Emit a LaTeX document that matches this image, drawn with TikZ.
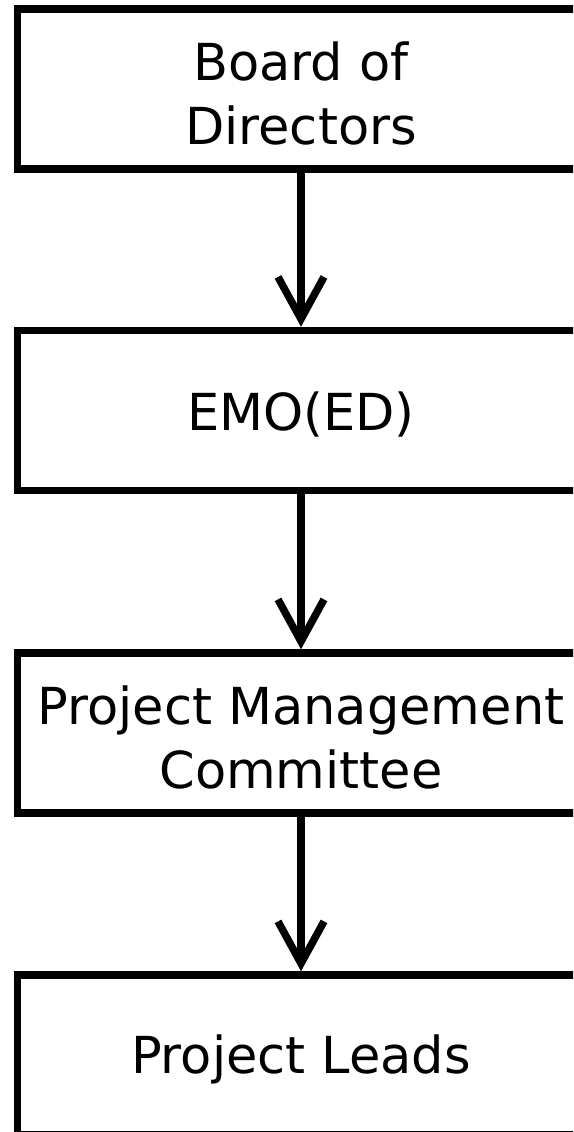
\documentclass[tikz,border=0pt]{standalone}
\usepackage{fontspec}
\setmainfont{DejaVu Sans}
\usetikzlibrary{arrows.meta}
\begin{document}
\begin{tikzpicture}[x=1pt,y=-1pt,
  box/.style={draw=black, line width=7.5pt, rectangle, minimum width=567pt, minimum height=160pt, inner sep=0pt},
  boxtext/.style={align=center, inner sep=0pt, yshift=-4pt, font=\fontsize{51}{64}\selectfont},
  conn/.style={line width=7.5pt, -{Straight Barb[length=42pt,width=46pt]}}]
\useasboundingbox (0,0) rectangle (573,1132);
\clip (0,0) rectangle (573,1132);
\node[box, label={[boxtext]center:{Board of\\Directors}}] (bod) at (301,89) {};
\node[box, label={[boxtext]center:{EMO(ED)}}] (emo) at (301,410.5) {};
\node[box, label={[boxtext]center:{Project Management\\Committee}}] (pmc) at (301,733) {};
\node[box, label={[boxtext]center:{Project Leads}}] (pl) at (301,1055) {};
\draw[conn] (bod.south) -- (emo.north);
\draw[conn] (emo.south) -- (pmc.north);
\draw[conn] (pmc.south) -- (pl.north);
\end{tikzpicture}
\end{document}
